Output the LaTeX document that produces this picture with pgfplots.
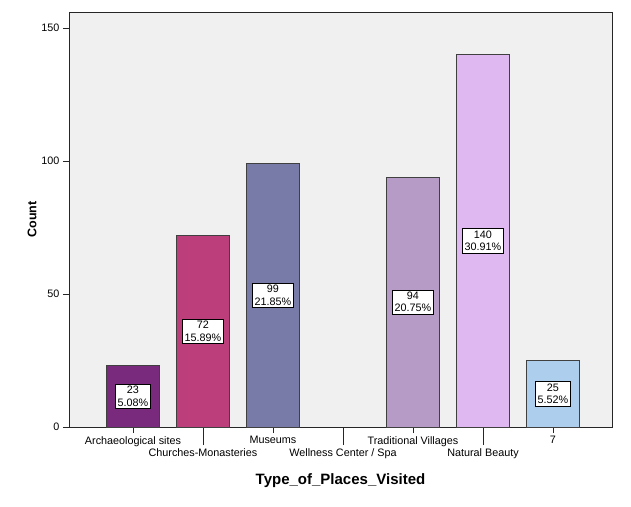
\documentclass[border=0pt]{standalone}
\usepackage{fontspec}
\setmainfont{Liberation Sans}
\usepackage{pgfplots}
\pgfplotsset{compat=1.18}

\definecolor{bgc}{HTML}{F0F0F0}
\definecolor{c1}{HTML}{7A2A7C}
\definecolor{c2}{HTML}{BC3F7C}
\definecolor{c3}{HTML}{787AA8}
\definecolor{c5}{HTML}{B79BC7}
\definecolor{c6}{HTML}{DFB8F2}
\definecolor{c7}{HTML}{ADCEED}

\pgfplotsset{
  spss/.style 2 args={fill=#1, draw=black!75, line width=0.8pt, bar shift=0pt,
    nodes near coords={#2}},
}

\begin{document}
\begin{tikzpicture}
\path[use as bounding box] (-69pt,-79pt) rectangle (562pt,427pt);
\begin{axis}[
  at={(0,0)}, anchor=south west,
  scale only axis, width=543pt, height=415pt,
  ybar, bar width=53pt,
  xmin=-0.914, xmax=6.843,
  ymin=0, ymax=156,
  axis background/.style={fill=bgc},
  axis line style={black!85, line width=0.8pt},
  tick align=outside,
  major tick length=6pt,
  tick style={black!85, line width=0.8pt},
  xtick={0,2,4,6},
  xticklabels={Archaeological sites, Museums, Traditional Villages, 7},
  extra x ticks={1,3,5},
  extra x tick labels={Churches-Monasteries, Wellness Center / Spa, Natural Beauty},
  extra x tick style={major tick length=18pt},
  ytick={0,50,100,150},
  xtick pos=bottom, ytick pos=left,
  ticklabel style={font=\fontsize{10.8}{12}\selectfont},
  /pgf/number format/assume math mode=true,
  ylabel={\textbf{Count}},
  ylabel style={font=\fontsize{12.5}{14}\selectfont, yshift=-2pt},
  xlabel={\textbf{Type\_of\_Places\_Visited}},
  xlabel style={font=\fontsize{15}{17}\selectfont, yshift=4pt},
  visualization depends on={y \as \rawy},
  every node near coord/.append style={anchor=center, fill=white, draw=black,
    line width=0.6pt, align=center, inner sep=2pt,
    font=\fontsize{10.8}{12.5}\selectfont,
    shift={(axis direction cs:0,-\rawy/2)}},
]
\addplot[spss={c1}{23\\5.08\%}] coordinates {(0,23)};
\addplot[spss={c2}{72\\15.89\%}] coordinates {(1,72)};
\addplot[spss={c3}{99\\21.85\%}] coordinates {(2,99)};
\addplot[spss={c5}{94\\20.75\%}] coordinates {(4,94)};
\addplot[spss={c6}{140\\30.91\%}] coordinates {(5,140)};
\addplot[spss={c7}{25\\5.52\%}] coordinates {(6,25)};
\end{axis}
\end{tikzpicture}
\end{document}
